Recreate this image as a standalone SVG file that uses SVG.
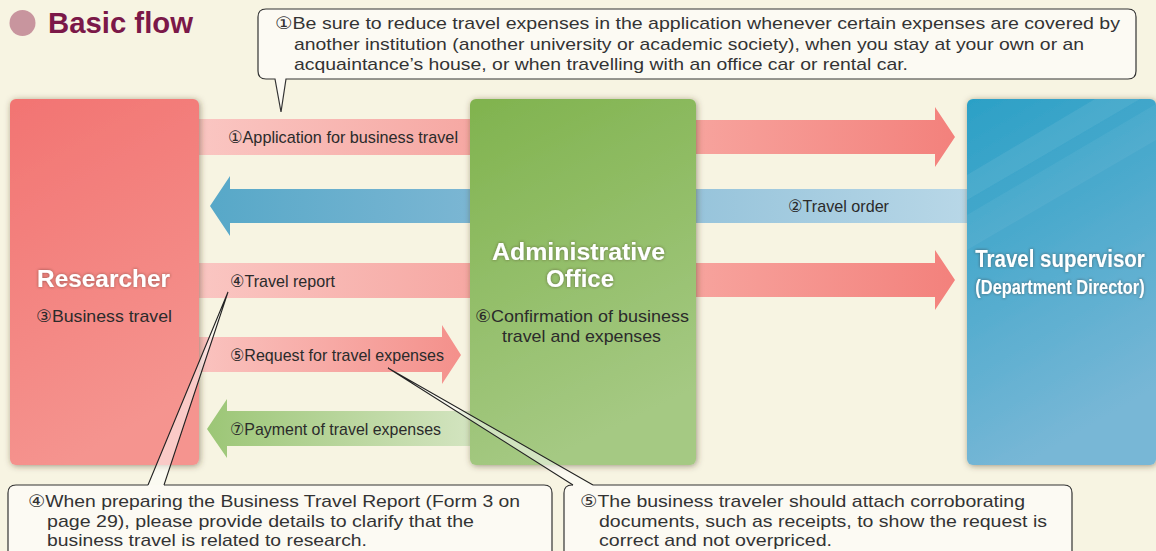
<svg xmlns="http://www.w3.org/2000/svg" width="1156" height="551" viewBox="0 0 1156 551">
<defs>
<style>
.t{font-family:"Liberation Sans",Arial,"DejaVu Sans",sans-serif;font-size:17px;fill:#2b2b2b}
.c{font-family:"Liberation Sans",Arial,"DejaVu Sans",sans-serif;font-size:17px;fill:#333}
.h{font-family:"Liberation Sans",Arial,sans-serif;font-weight:bold;font-size:24px;fill:#fff}
.callout{fill:#fcfaf3;stroke:#333;stroke-width:1.2}
.tail{fill:#ffffff;fill-opacity:0.5;stroke:none}
.tailline{fill:none;stroke:#222;stroke-width:1.1}
</style>
<filter id="shadow" x="-10%" y="-10%" width="120%" height="120%">
<feDropShadow dx="1" dy="1" stdDeviation="3" flood-color="#4a3c20" flood-opacity="0.5"/>
</filter>
<filter id="glow" x="-10%" y="-30%" width="120%" height="160%">
<feGaussianBlur in="SourceAlpha" stdDeviation="1.8" result="b"/>
<feFlood flood-color="#3a2a20" flood-opacity="0.55"/>
<feComposite in2="b" operator="in" result="s"/>
<feMerge><feMergeNode in="s"/><feMergeNode in="SourceGraphic"/></feMerge>
</filter>
<linearGradient id="gRes" x1="0" y1="0" x2="0.3" y2="1"><stop offset="0" stop-color="#f27472"/><stop offset="1" stop-color="#f5948f"/></linearGradient>
<linearGradient id="gAdm" x1="0" y1="0" x2="0.3" y2="1"><stop offset="0" stop-color="#80b34e"/><stop offset="1" stop-color="#a5c983"/></linearGradient>
<linearGradient id="gSup" x1="0" y1="0" x2="0.3" y2="1"><stop offset="0" stop-color="#2ba0c6"/><stop offset="1" stop-color="#78b7d6"/></linearGradient>
<linearGradient id="gPinkL" x1="0" y1="0" x2="1" y2="0"><stop offset="0" stop-color="#fac6c2"/><stop offset="1" stop-color="#f6a8a3"/></linearGradient>
<linearGradient id="gPinkReq" x1="0" y1="0" x2="1" y2="0"><stop offset="0" stop-color="#fac3bf"/><stop offset="1" stop-color="#f4908b"/></linearGradient>
<linearGradient id="gPinkR" x1="0" y1="0" x2="1" y2="0"><stop offset="0" stop-color="#f7a39d"/><stop offset="1" stop-color="#f3817c"/></linearGradient>
<linearGradient id="gBlueR" x1="0" y1="0" x2="1" y2="0"><stop offset="0" stop-color="#97c4db"/><stop offset="1" stop-color="#b8d7e7"/></linearGradient>
<linearGradient id="gBlueL" x1="0" y1="0" x2="1" y2="0"><stop offset="0" stop-color="#57a8c8"/><stop offset="1" stop-color="#7bb6d3"/></linearGradient>
<linearGradient id="gGreen" x1="0" y1="0" x2="1" y2="0"><stop offset="0" stop-color="#9cc676"/><stop offset="1" stop-color="#d3e4c0"/></linearGradient>
</defs>

<rect width="1156" height="551" fill="#f7f4e2"/>

<g id="title">
<circle cx="22.5" cy="23" r="13" fill="#c8959e"/>
<text x="48" y="33" font-family="Liberation Sans,Arial,sans-serif" font-weight="bold" font-size="29" fill="#7b1848" textLength="145" lengthAdjust="spacingAndGlyphs">Basic flow</text>
</g>

<g id="connectors">
<g id="c1-application">
<rect x="198" y="119" width="272" height="36" fill="url(#gPinkL)"/>
<polygon points="696,120 935,120 935,107 955,137 935,167 935,154 696,154" fill="url(#gPinkR)"/>
<text class="t" x="228" y="143" textLength="230" lengthAdjust="spacingAndGlyphs">①Application for business travel</text>
</g>
<g id="c2-order">
<rect x="696" y="189" width="271" height="34" fill="url(#gBlueR)"/>
<polygon points="470,189 230,189 230,176 210,206 230,236 230,223 470,223" fill="url(#gBlueL)"/>
<text class="t" x="788" y="212" textLength="101" lengthAdjust="spacingAndGlyphs">②Travel order</text>
</g>
<g id="c4-report">
<rect x="198" y="263" width="272" height="35" fill="url(#gPinkL)"/>
<polygon points="696,263 935,263 935,250 955,280 935,310 935,297 696,297" fill="url(#gPinkR)"/>
<text class="t" x="230" y="287" textLength="105" lengthAdjust="spacingAndGlyphs">④Travel report</text>
</g>
<g id="c5-request">
<polygon points="198,337 442,337 442,325 461,355 442,384 442,372 198,372" fill="url(#gPinkReq)"/>
<text class="t" x="230" y="361" textLength="214" lengthAdjust="spacingAndGlyphs">⑤Request for travel expenses</text>
</g>
<g id="c7-payment">
<polygon points="470,411 227,411 227,399 207,429 227,458 227,446 470,446" fill="url(#gGreen)"/>
<text class="t" x="230" y="435" textLength="211" lengthAdjust="spacingAndGlyphs">⑦Payment of travel expenses</text>
</g>
</g>

<g id="researcher">
<rect x="10" y="99" width="189" height="366" rx="6" fill="url(#gRes)" filter="url(#shadow)"/>
<text class="h" x="37" y="287" textLength="133" lengthAdjust="spacingAndGlyphs" filter="url(#glow)">Researcher</text>
<text class="t" x="36" y="322" textLength="136" lengthAdjust="spacingAndGlyphs">③Business travel</text>
</g>

<g id="admin">
<rect x="470" y="99" width="226" height="366" rx="6" fill="url(#gAdm)" filter="url(#shadow)"/>
<text class="h" x="492" y="260" textLength="173" lengthAdjust="spacingAndGlyphs" filter="url(#glow)">Administrative</text>
<text class="h" x="580" y="287" text-anchor="middle" filter="url(#glow)">Office</text>
<text class="t" x="475" y="322" textLength="214" lengthAdjust="spacingAndGlyphs">⑥Confirmation of business</text>
<text class="t" x="502" y="342" textLength="159" lengthAdjust="spacingAndGlyphs">travel and expenses</text>
</g>

<g id="supervisor">
<rect x="967" y="99" width="189" height="366" rx="6" fill="url(#gSup)" filter="url(#shadow)"/>
<polygon points="967,175 1095,99 1140,99 967,200" fill="#ffffff" fill-opacity="0.07"/>
<polygon points="967,215 1156,104 1156,140 967,250" fill="#ffffff" fill-opacity="0.05"/>
<g transform="translate(1060,267) scale(0.89,1)">
<text class="h" x="0" y="0" text-anchor="middle" filter="url(#glow)" style="font-size:23px">Travel supervisor</text>
</g>
<g transform="translate(1060,294) scale(0.78,1)">
<text class="h" x="0" y="0" text-anchor="middle" filter="url(#glow)" style="font-size:21px">(Department Director)</text>
</g>
</g>

<g id="note1">
<path class="callout" d="M266,9 H1128 Q1136,9 1136,17 V71 Q1136,79 1128,79 H286 L281,112 L275,79 H266 Q258,79 258,71 V17 Q258,9 266,9 Z"/>
<text class="c" x="275" y="29" textLength="845" lengthAdjust="spacingAndGlyphs">①Be sure to reduce travel expenses in the application whenever certain expenses are covered by</text>
<text class="c" x="294" y="49.5" textLength="790" lengthAdjust="spacingAndGlyphs">another institution (another university or academic society), when you stay at your own or an</text>
<text class="c" x="294" y="70" textLength="614" lengthAdjust="spacingAndGlyphs">acquaintance’s house, or when travelling with an office car or rental car.</text>
</g>

<g id="note4">
<path class="callout" d="M164,485 H544 Q552,485 552,493 V560 H8 V493 Q8,485 16,485 H148"/>
<polygon class="tail" points="148,485 228,292 164,485"/>
<path class="tailline" d="M148,485 L228,292 L164,485"/>
<text class="c" x="28" y="507" textLength="492" lengthAdjust="spacingAndGlyphs">④When preparing the Business Travel Report (Form 3 on</text>
<text class="c" x="47" y="527" textLength="427" lengthAdjust="spacingAndGlyphs">page 29), please provide details to clarify that the</text>
<text class="c" x="47" y="546" textLength="320" lengthAdjust="spacingAndGlyphs">business travel is related to research.</text>
</g>

<g id="note5">
<path class="callout" d="M593,485 H1064 Q1072,485 1072,493 V560 H564 V493 Q564,485 572,485 H573"/>
<polygon class="tail" points="573,485 388,368 593,485"/>
<path class="tailline" d="M573,485 L388,368 L593,485"/>
<text class="c" x="580" y="507" textLength="445" lengthAdjust="spacingAndGlyphs">⑤The business traveler should attach corroborating</text>
<text class="c" x="599" y="527" textLength="448" lengthAdjust="spacingAndGlyphs">documents, such as receipts, to show the request is</text>
<text class="c" x="599" y="546" textLength="233" lengthAdjust="spacingAndGlyphs">correct and not overpriced.</text>
</g>
</svg>
